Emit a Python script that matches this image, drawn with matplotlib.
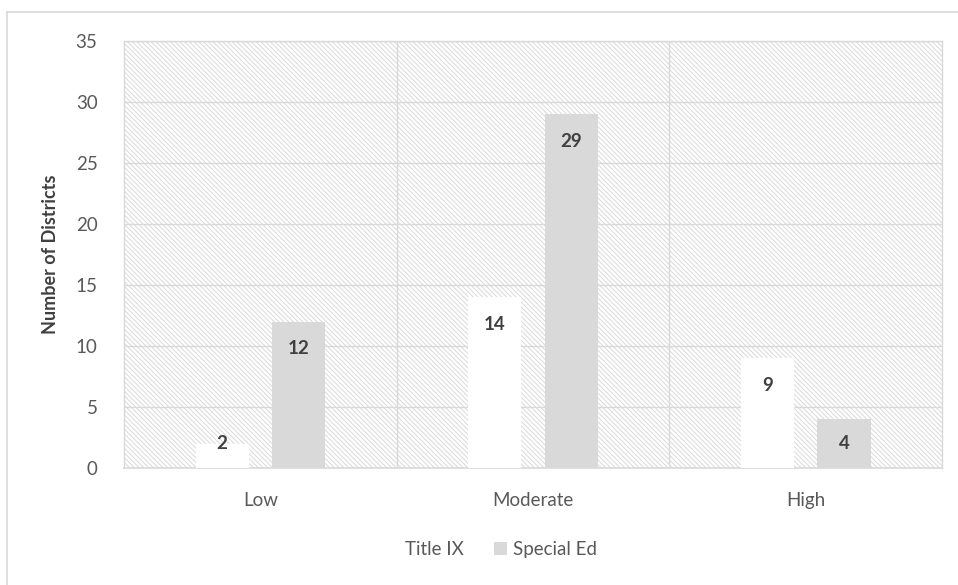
import matplotlib
matplotlib.use("Agg")
import matplotlib.pyplot as plt
import numpy as np

categories = ["Low", "Moderate", "High"]
title_ix = [2, 14, 9]
special_ed = [12, 29, 4]
series_names = ["Title IX", "Special Ed"]
y_ticks = [0, 5, 10, 15, 20, 25, 30, 35]

plt.rcParams["font.family"] = ["Lato", "DejaVu Sans"]
plt.rcParams["hatch.color"] = "#e0e0e0"
plt.rcParams["hatch.linewidth"] = 0.7

GRID = "#d9d9d9"
TEXT = "#595959"
LABEL = "#404040"

fig = plt.figure(figsize=(9.58, 5.85), dpi=100)
ax = fig.add_axes([0.1294, 0.2, 0.854, 0.7299])

# hatched plot area background
ax.patch.set_facecolor("white")
ax.patch.set_hatch("\\" * 7)
ax.patch.set_edgecolor(GRID)

x = np.arange(len(categories))
width = 0.195
offset = 0.14
bars1 = ax.bar(x - offset, title_ix, width, color="white", label=series_names[0], zorder=3)
bars2 = ax.bar(x + offset, special_ed, width, color="#d9d9d9", label=series_names[1], zorder=3)

for bars, vals in [(bars1, title_ix), (bars2, special_ed)]:
    for b, v in zip(bars, vals):
        y = max(v - 2.2, 2.0)
        ax.text(b.get_x() + b.get_width() / 2, y, str(v), ha="center", va="center",
                fontsize=13.5, fontweight="bold", color=LABEL, zorder=4)

ax.set_xlim(-0.5, 2.5)
ax.set_ylim(0, 35)
ax.set_yticks(y_ticks)
ax.set_xticks(x)
ax.set_xticklabels(categories)
ax.tick_params(axis="both", length=0, labelsize=13.5, colors=TEXT)
ax.tick_params(axis="y", pad=19)
ax.tick_params(axis="x", pad=17)

ax.grid(axis="y", color=GRID, linewidth=1, zorder=1)
ax.set_axisbelow(True)
for xv in [0.5, 1.5]:
    ax.axvline(xv, color=GRID, linewidth=1, zorder=1)

for side in ["top", "right", "left"]:
    ax.spines[side].set_color(GRID)
    ax.spines[side].set_linewidth(1)
ax.spines["bottom"].set_color(GRID)
ax.spines["bottom"].set_linewidth(1.2)

ax.set_ylabel("Number of Districts", fontsize=13, fontweight="bold", color=LABEL, labelpad=12)

leg = fig.legend(handles=[bars1, bars2], labels=series_names, loc="center",
                 bbox_to_anchor=(0.513, 0.06), ncol=2, frameon=False, fontsize=13.5,
                 handlelength=0.7, handleheight=0.7, handletextpad=0.3, columnspacing=1.6)
for t in leg.get_texts():
    t.set_color(TEXT)

# outer chart border (left and top visible)
fig.add_artist(plt.Line2D([0.0075, 0.0075], [0.0, 0.979], color=GRID, linewidth=1.2,
                          transform=fig.transFigure))
fig.add_artist(plt.Line2D([0.0075, 1.0], [0.979, 0.979], color=GRID, linewidth=1.2,
                          transform=fig.transFigure))

fig.savefig("out.png", dpi=100)
